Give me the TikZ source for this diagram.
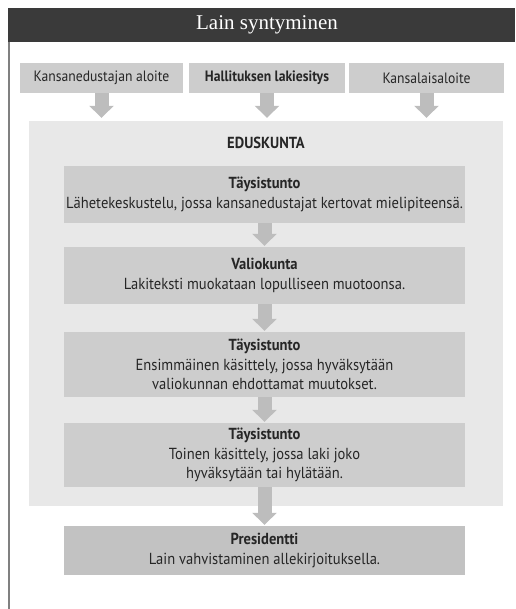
\documentclass[tikz,border=0pt]{standalone}
\usepackage{fontspec}
\setmainfont[FakeStretch=0.91]{PT Sans}
\newfontfamily\titlefont{Liberation Serif}
\usetikzlibrary{arrows.meta}

\definecolor{headgray}{HTML}{3A3A3A}
\definecolor{boxgray}{HTML}{CDCDCD}
\definecolor{edusgray}{HTML}{E8E8E8}
\definecolor{arrowgray}{HTML}{BDBDBD}
\definecolor{presgray}{HTML}{C2C2C2}
\definecolor{textgray}{HTML}{262626}

\begin{document}
\begin{tikzpicture}[x = 1pt, y = -1pt,
	box/.style = {fill=boxgray, inner sep=0pt, align=center, text=textgray,
		font=\fontsize{16}{19.5}\selectfont},
	topbox/.style = {box, minimum height=30pt, font=\fontsize{15}{18}\selectfont},
	fatarrow/.style = {draw=arrowgray, line width=14pt,
		-{Triangle[width=24pt, length=12pt]}},
]
\useasboundingbox (0,0) rectangle (515,609);

% header
\fill [headgray] (8,8) rectangle (515,42);
\node (title) at (267,25) {\titlefont\fontsize{21}{24}\selectfont\color{white}Lain syntyminen};
\draw [gray, line width=1.2pt] (9,42) -- (9,609);

% initiatives
\node [topbox, minimum width=163pt] (kaa) at (101.5,78) {Kansanedustajan aloite};
\node [topbox, minimum width=156pt] (hal) at (267,78) {\textbf{Hallituksen lakiesitys}};
\node [topbox, minimum width=155pt] (kal) at (426.5,78) {Kansalaisaloite};

% parliament
\node [fill=edusgray, minimum width=474pt, minimum height=385pt, inner sep=0pt] (edus) at (266,313.5) {};
\node [text=textgray, font=\fontsize{16}{19.5}\selectfont\bfseries] (eduslabel) at (266,143) {EDUSKUNTA};

\node [box, minimum width=401pt, minimum height=57pt] (ta1) at (264.5,194.5)
	{\textbf{Täysistunto}\\Lähetekeskustelu, jossa kansanedustajat kertovat mielipiteensä.};
\node [box, minimum width=401pt, minimum height=57pt] (valio) at (264.5,275.5)
	{\textbf{Valiokunta}\\Lakiteksti muokataan lopulliseen muotoonsa.};
\node [box, minimum width=401pt, minimum height=65pt] (ta2) at (264.5,364.5)
	{\textbf{Täysistunto}\\Ensimmäinen käsittely, jossa hyväksytään\\valiokunnan ehdottamat muutokset.};
\node [box, minimum width=401pt, minimum height=64pt] (ta3) at (264.5,455)
	{\textbf{Täysistunto}\\Toinen käsittely, jossa laki joko\\hyväksytään tai hylätään.};

% president
\node [box, fill=presgray, minimum width=401pt, minimum height=49pt] (pres) at (264.5,550.5)
	{\textbf{Presidentti}\\Lain vahvistaminen allekirjoituksella.};

% arrows
\foreach \k in {kaa, hal, kal}
	{
		\draw [fatarrow, shorten >=3pt] (\k) -- (\k |- edus.north);
	}
\foreach \a/\b in {ta1/valio, valio/ta2, ta2/ta3, ta3/pres}
	{
		\draw [fatarrow, shorten >=1pt] (\a) -- (\b);
	}

\end{tikzpicture}
\end{document}
